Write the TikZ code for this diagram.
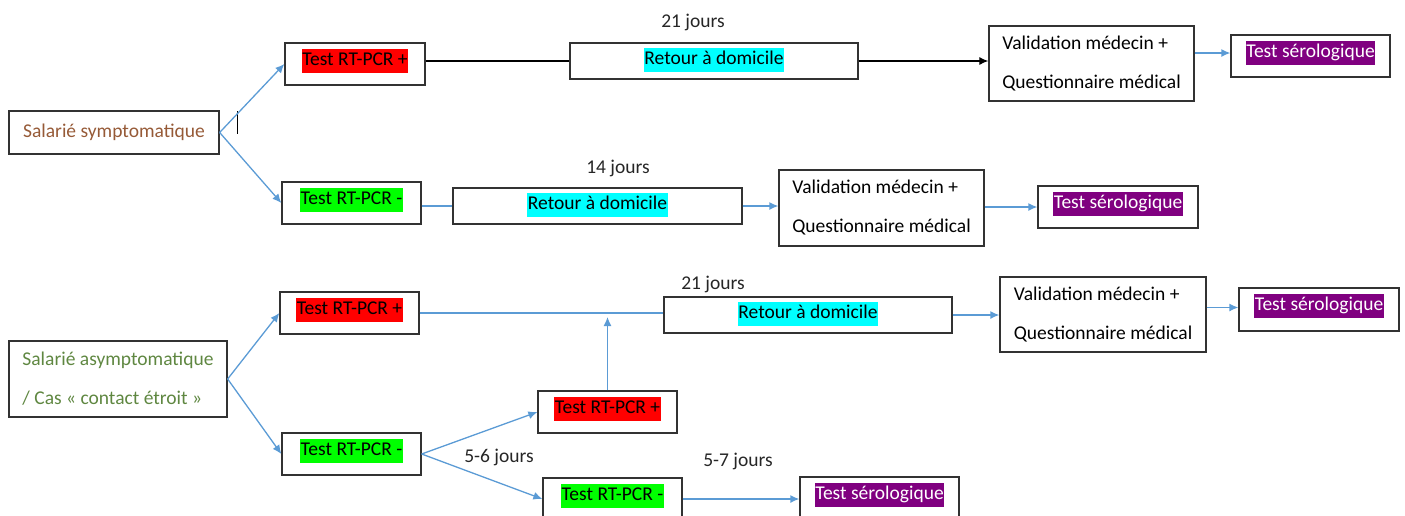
\documentclass[tikz,border=0pt]{standalone}
\usepackage{fontspec}
\setmainfont{Carlito}
\usetikzlibrary{arrows.meta,calc}
\definecolor{linkblue}{RGB}{91,155,213}
\definecolor{edgegray}{RGB}{50,50,50}
\definecolor{hred}{RGB}{255,0,0}
\definecolor{hgreen}{RGB}{0,255,0}
\definecolor{hcyan}{RGB}{0,255,255}
\definecolor{hpurple}{RGB}{128,0,128}
\definecolor{symtext}{RGB}{150,90,55}
\definecolor{asymtext}{RGB}{95,135,65}
\newcommand{\hlt}[2]{{\setlength{\fboxsep}{0.6pt}\colorbox{#1}{\strut #2}}}
\begin{document}
\begin{tikzpicture}[x=1pt,y=-1pt,
  every node/.style={font=\fontsize{19.5}{23}\selectfont},
  plainbox/.style={draw=edgegray, line width=1.3pt, inner sep=0pt},
  hbox/.style={plainbox, minimum height=42pt, text height=16.6pt, text depth=14pt},
  rbox/.style={plainbox, minimum height=36pt, text height=16.6pt, text depth=9pt},
  vbox/.style={plainbox, minimum width=205pt, minimum height=75pt, align=left, font=\fontsize{19.5}{39}\selectfont},
  lbl/.style={text=black!85},
  link/.style={draw=linkblue, line width=1.3pt},
  arr/.style={link, -{Latex[length=9pt,width=8pt]}},
  blackline/.style={draw=black, line width=1.2pt},
]
\path[use as bounding box] (0,0) rectangle (1405,515);
\clip (0,0) rectangle (1405,515);

% ---- symptomatic branch
\node[plainbox, minimum width=210pt, minimum height=43pt, text=symtext] (sym) at (114,132.5) {Salarié symptomatique};
\node[hbox, minimum width=140pt] (pp1) at (355,64) {\hlt{hred}{Test RT-PCR +}};
\node[hbox, minimum width=139pt] (pm1) at (351.5,203) {\hlt{hgreen}{Test RT-PCR -}};
\node[rbox, minimum width=288pt] (ret1) at (714,61) {\hlt{hcyan}{Retour à domicile}};
\node[vbox] (val1) at (1091.5,63.5) {Validation médecin +\\Questionnaire médical};
\node[hbox, minimum width=159pt] (ser1) at (1310.5,56) {\hlt{hpurple}{\textcolor{white}{Test sérologique}}};
\node[rbox, minimum width=289pt] (ret2) at (597.5,206) {\hlt{hcyan}{Retour à domicile}};
\node[vbox, minimum height=76pt] (val2) at (881.5,208) {Validation médecin +\\Questionnaire médical};
\node[hbox, minimum width=160pt] (ser2) at (1118,207) {\hlt{hpurple}{\textcolor{white}{Test sérologique}}};
\node[lbl] (d21a) at (693,22) {21 jours};
\node[lbl] (d14) at (618,168) {14 jours};

\draw[black, line width=1pt] ($(sym.north east)+(18,1)$) -- ++(0,23);
\draw[arr] (sym.east) -- (pp1.west);
\draw[arr] (sym.east) -- (pm1.west);
\draw[blackline] (pp1.east |- ret1.west) -- (ret1.west);
\draw[blackline, -{Latex[length=9pt,width=8pt]}] (ret1.east) -- (val1.west |- ret1.east);
\draw[arr] ([yshift=3pt]val1.east |- ser1.west) -- ([yshift=3pt]ser1.west);
\draw[link] (pm1.east |- ret2.west) -- (ret2.west);
\draw[arr] (ret2.east) -- (val2.west |- ret2.east);
\draw[arr] (val2.east |- ser2.west) -- (ser2.west);

% ---- asymptomatic branch
\node[plainbox, minimum width=218pt, minimum height=76pt, align=left, font=\fontsize{19.5}{39}\selectfont, text=asymtext] (asym) at (118,379) {Salarié asymptomatique\\/ Cas « contact étroit »};
\node[hbox, minimum width=139pt] (pp3) at (349.5,313) {\hlt{hred}{Test RT-PCR +}};
\node[hbox, minimum width=139pt] (pm3) at (351.5,454) {\hlt{hgreen}{Test RT-PCR -}};
\node[rbox, minimum width=288pt] (ret3) at (808,315) {\hlt{hcyan}{Retour à domicile}};
\node[vbox, minimum width=206pt] (val3) at (1103,314.5) {Validation médecin +\\Questionnaire médical};
\node[hbox, minimum width=160pt, minimum height=43pt] (ser3) at (1319,309.5) {\hlt{hpurple}{\textcolor{white}{Test sérologique}}};
\node[hbox, minimum width=139pt] (pp4) at (607.5,412) {\hlt{hred}{Test RT-PCR +}};
\node[hbox, minimum width=139pt] (pm4) at (612.5,499) {\hlt{hgreen}{Test RT-PCR -}};
\node[hbox, minimum width=159pt] (ser4) at (879.5,498) {\hlt{hpurple}{\textcolor{white}{Test sérologique}}};
\node[lbl] (d21b) at (713,284) {21 jours};
\node[lbl] (d56) at (499,457) {5-6 jours};
\node[lbl] (d57) at (738,461) {5-7 jours};

\draw[arr] (asym.east) -- (pp3.west);
\draw[arr] (asym.east) -- (pm3.west);
\draw[link] (pp3.east) -- (pp3.east -| ret3.west);
\draw[arr] (pp4.north) -- ($(pp4.north |- pp3.east)+(0,4)$);
\draw[arr] (ret3.east) -- (val3.west |- ret3.east);
\draw[arr] ([yshift=2pt]val3.east |- ser3.west) -- ([yshift=2pt]ser3.west);
\draw[arr] (pm3.east) -- (pp4.west);
\draw[arr] (pm3.east) -- (pm4.west);
\draw[arr] (pm4.east) -- (pm4.east -| ser4.west);
\end{tikzpicture}
\end{document}
